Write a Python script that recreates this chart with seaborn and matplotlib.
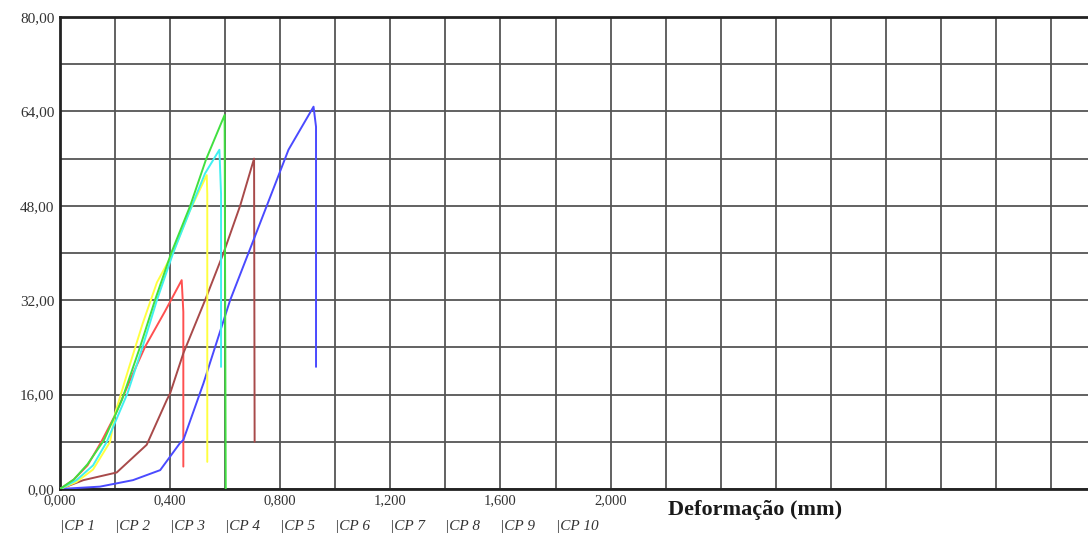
import numpy as np
import pandas as pd
import matplotlib
matplotlib.use("Agg")
import matplotlib.pyplot as plt
import seaborn as sns

# Data: deformation (mm) vs load
cp_red_x = [0.0, 0.05, 0.10, 0.15, 0.20, 0.255, 0.309, 0.38, 0.442, 0.448, 0.448]
cp_red_y = [0.0, 1.6, 4.0, 8.0, 12.5, 18.5, 24.1, 30.0, 35.4, 30.0, 3.8]

cp_green_x = [0.0, 0.05, 0.10, 0.16, 0.224, 0.291, 0.345, 0.404, 0.473, 0.53, 0.598, 0.602]
cp_green_y = [0.0, 1.6, 4.2, 8.3, 15.0, 24.1, 32.0, 40.0, 48.0, 55.8, 63.4, 0.0]

cp_blue_x = [0.0, 0.145, 0.265, 0.364, 0.436, 0.448, 0.521, 0.618, 0.703, 0.83, 0.921, 0.93, 0.93]
cp_blue_y = [0.0, 0.4, 1.5, 3.2, 7.8, 8.3, 17.9, 32.0, 42.2, 57.5, 64.8, 61.4, 20.7]

cp_yellow_x = [0.0, 0.06, 0.12, 0.182, 0.20, 0.25, 0.30, 0.352, 0.41, 0.47, 0.533, 0.535, 0.535]
cp_yellow_y = [0.0, 1.2, 3.3, 8.0, 12.8, 20.5, 28.0, 35.0, 40.0, 47.0, 53.2, 50.0, 4.6]

cp_cyan_x = [0.0, 0.06, 0.12, 0.17, 0.245, 0.30, 0.352, 0.411, 0.479, 0.527, 0.579, 0.585, 0.585]
cp_cyan_y = [0.0, 1.5, 4.0, 8.0, 16.2, 24.1, 32.0, 40.0, 48.0, 53.5, 57.5, 50.0, 20.7]

cp_brown_x = [0.0, 0.085, 0.206, 0.315, 0.388, 0.40, 0.448, 0.527, 0.594, 0.655, 0.705, 0.707]
cp_brown_y = [0.0, 1.5, 2.8, 7.5, 15.1, 16.2, 23.0, 32.0, 40.0, 48.1, 56.0, 8.0]

series = {
    "CP 1": (cp_red_x, cp_red_y),
    "CP 2": (cp_green_x, cp_green_y),
    "CP 3": (cp_blue_x, cp_blue_y),
    "CP 4": (cp_yellow_x, cp_yellow_y),
    "CP 5": (cp_cyan_x, cp_cyan_y),
    "CP 6": (cp_brown_x, cp_brown_y),
}
colors = {"CP 1": "#ff5050", "CP 2": "#40e040", "CP 3": "#4a4aff",
          "CP 4": "#ffff40", "CP 5": "#40f0f0", "CP 6": "#a84a4a"}
draw_order = ["CP 1", "CP 6", "CP 3", "CP 4", "CP 5", "CP 2"]

legend_labels = ["CP 1", "CP 2", "CP 3", "CP 4", "CP 5", "CP 6", "CP 7", "CP 8", "CP 9", "CP 10"]
x_ticks = [0.0, 0.4, 0.8, 1.2, 1.6, 2.0]
x_tick_labels = ["0,000", "0,400", "0,800", "1,200", "1,600", "2,000"]
y_ticks = [0, 16, 32, 48, 64, 80]
y_tick_labels = ["0,00", "16,00", "32,00", "48,00", "64,00", "80,00"]

rows = []
for name, (xs, ys) in series.items():
    for i, (xv, yv) in enumerate(zip(xs, ys)):
        rows.append({"serie": name, "idx": i, "x": xv, "y": yv})
df = pd.DataFrame(rows)

sns.set_theme(style="white")
plt.rcParams["font.family"] = ["Liberation Serif", "DejaVu Serif"]

fig = plt.figure(figsize=(10.88, 5.37), dpi=100)
ax = fig.add_axes([60 / 1088, 48 / 537, 1 - 60 / 1088 + 0.001, 472 / 537])

for name in draw_order:
    sub = df[df["serie"] == name]
    sns.lineplot(data=sub, x="x", y="y", sort=False, estimator=None,
                 color=colors[name], lw=1.4, ax=ax, legend=False, zorder=3)

ax.set_xlim(0, (1088 - 60) / 275)
ax.set_ylim(0, 80)
ax.set_xticks(np.arange(0, 3.75, 0.2), minor=True)
ax.set_yticks(np.arange(0, 81, 8), minor=True)
ax.set_xticks(x_ticks)
ax.set_xticklabels(x_tick_labels, fontsize=10.5, color="#333333")
ax.set_yticks(y_ticks)
ax.set_yticklabels(y_tick_labels, fontsize=11, color="#333333")
ax.tick_params(which="both", length=0, pad=4)
ax.grid(True, which="both", color="#555555", lw=1.3)
ax.set_axisbelow(True)
for s in ["left", "bottom", "top"]:
    ax.spines[s].set_color("#222222")
    ax.spines[s].set_linewidth(2)
ax.spines["right"].set_visible(False)
ax.set_xlabel("")
ax.set_ylabel("")

ax.text(2.21, -0.045, "Deformação (mm)", transform=ax.get_xaxis_transform(),
        fontsize=16, fontweight="bold", ha="left", va="center", color="#1a1a1a")

for k, lab in enumerate(legend_labels):
    ax.text(0.2 * k, -0.08, "|" + lab, transform=ax.get_xaxis_transform(),
            fontsize=11, style="italic", ha="left", va="center", color="#333333")

fig.savefig("out.png", dpi=100)
